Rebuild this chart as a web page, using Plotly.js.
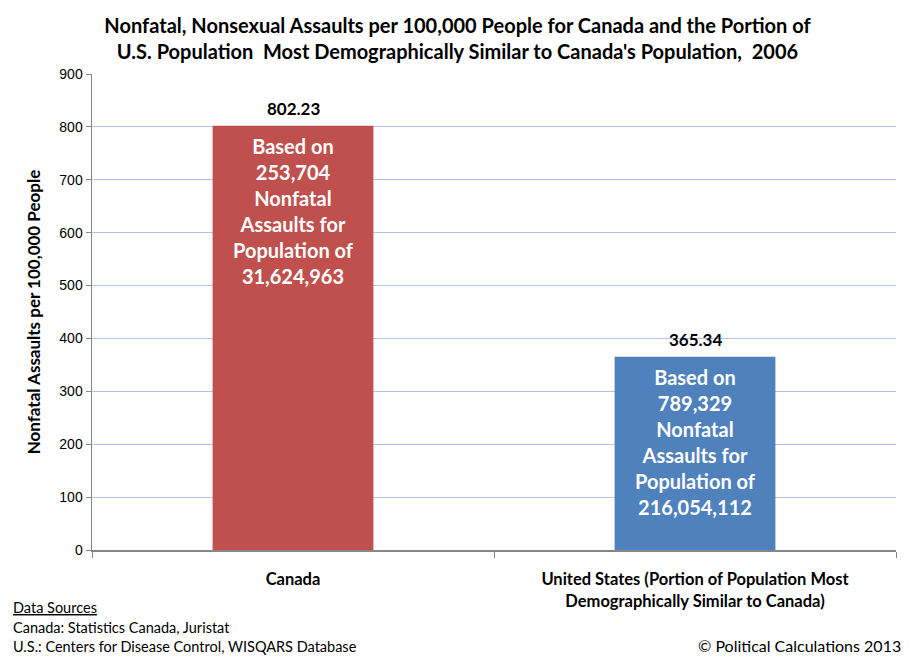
<!DOCTYPE html>
<html><head><meta charset="utf-8">
<script src="https://cdn.plot.ly/plotly-3.0.1.min.js"></script>
<style>html,body{margin:0;padding:0;background:#fff;}#chart{width:915px;height:662px;}</style>
</head><body><div id="chart"></div>
<script>
const categories = ["Canada", "United States (Portion of Population Most<br>Demographically Similar to Canada)"];
const values = [802.23, 365.34];
const valueLabels = ["802.23", "365.34"];
const insideNotes = [
  "Based on<br>253,704<br>Nonfatal<br>Assaults for<br>Population of<br>31,624,963",
  "Based on<br>789,329<br>Nonfatal<br>Assaults for<br>Population of<br>216,054,112"
];
const barColors = ["#C0504D", "#4F81BD"];
const yTicks = [0, 100, 200, 300, 400, 500, 600, 700, 800, 900];

const FONT = "Lato, 'Open Sans', sans-serif";
const annotations = [];
categories.forEach((c, i) => {
  annotations.push({x: c, y: values[i], xref: 'x', yref: 'y', text: '<b>' + valueLabels[i] + '</b>',
    showarrow: false, yanchor: 'bottom', yshift: 5, font: {family: FONT, size: 17, color: '#000'}});
  annotations.push({x: c, y: values[i], xref: 'x', yref: 'y', text: '<b>' + insideNotes[i] + '</b>',
    showarrow: false, yanchor: 'top', yshift: -6, font: {family: FONT, size: 20, color: '#fff'}});
});
annotations.push({xref: 'paper', yref: 'paper', x: -81/804, y: -57/476, xanchor: 'left', yanchor: 'middle',
  text: '<u>Data Sources</u>', showarrow: false, font: {family: FONT, size: 14.5, color: '#000'}});
annotations.push({xref: 'paper', yref: 'paper', x: -81/804, y: -77/476, xanchor: 'left', yanchor: 'middle',
  text: 'Canada: Statistics Canada, Juristat', showarrow: false, font: {family: FONT, size: 14.5, color: '#000'}});
annotations.push({xref: 'paper', yref: 'paper', x: -81/804, y: -96/476, xanchor: 'left', yanchor: 'middle',
  text: 'U.S.: Centers for Disease Control, WISQARS Database', showarrow: false, font: {family: FONT, size: 14.5, color: '#000'}});
annotations.push({xref: 'paper', yref: 'paper', x: 1 + 7/804, y: -95/476, xanchor: 'right', yanchor: 'middle',
  text: '© Political Calculations 2013', showarrow: false, font: {family: FONT, size: 16, color: '#000'}});

const trace = {
  type: 'bar', x: categories, y: values, width: 0.4,
  marker: {color: barColors, line: {width: 0}}, hoverinfo: 'none'
};

const layout = {
  width: 915, height: 662,
  margin: {l: 92, r: 19, t: 74, b: 112},
  paper_bgcolor: '#fff', plot_bgcolor: '#fff',
  showlegend: false,
  title: {text: '<b>Nonfatal, Nonsexual Assaults per 100,000 People for Canada and the Portion of<br>U.S. Population  Most Demographically Similar to Canada\'s Population,  2006</b>',
    x: 0.5, xref: 'container', xanchor: 'center', yref: 'container', y: 1 - 33/662, yanchor: 'middle',
    font: {family: FONT, size: 20, color: '#000'}},
  xaxis: {type: 'category', tickson: 'boundaries', ticks: 'outside', ticklen: 6, tickcolor: '#868686',
    showline: true, linecolor: '#868686', linewidth: 1.5, showgrid: false, zeroline: false,
    ticktext: categories.map(c => '<b>' + c + '</b>'), tickvals: categories,
    ticklabelstandoff: 14,
    tickfont: {family: FONT, size: 16.5, color: '#000'}, range: [-0.5, 1.5], fixedrange: true},
  yaxis: {range: [0, 900], tickvals: yTicks, ticktext: yTicks.map(String), ticks: 'outside', ticklen: 5,
    tickcolor: '#868686', showline: true, linecolor: '#868686', linewidth: 1.5,
    showgrid: true, gridcolor: '#B3C4E4', gridwidth: 1, zeroline: false,
    tickfont: {family: "'Liberation Sans', Arial, sans-serif", size: 14, color: '#000'},
    title: {text: '<b>Nonfatal Assaults per 100,000 People</b>', standoff: 14,
      font: {family: FONT, size: 17, color: '#000'}}},
  annotations: annotations
};

Plotly.newPlot('chart', [trace], layout, {staticPlot: true, displayModeBar: false});
</script></body></html>
